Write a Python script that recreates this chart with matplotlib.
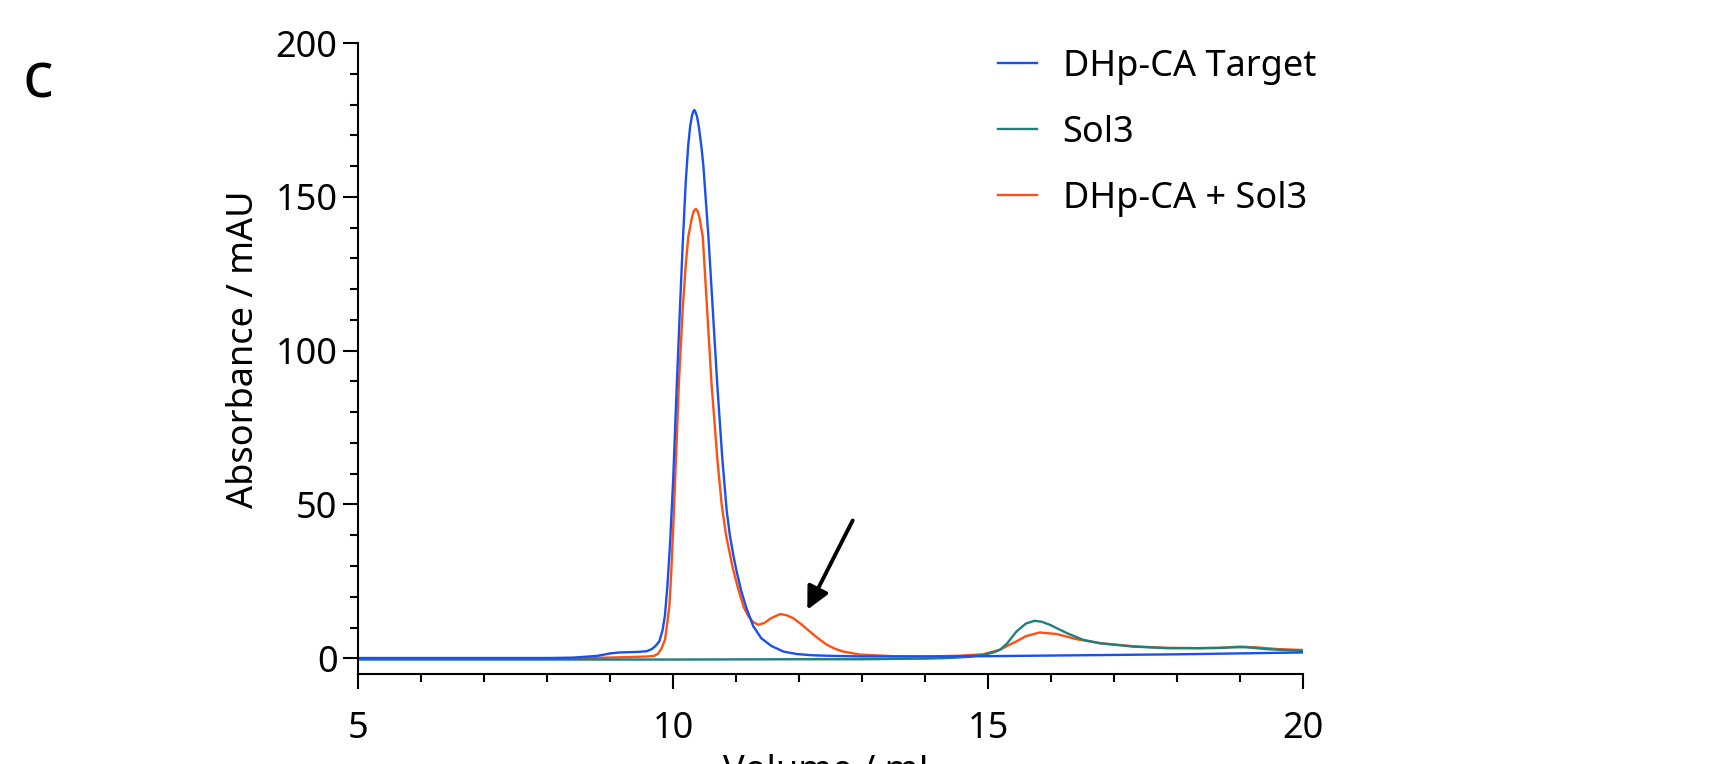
import matplotlib
matplotlib.use("Agg")
import matplotlib.pyplot as plt
from matplotlib.ticker import MultipleLocator

plt.rcParams['font.family'] = ['Noto Sans', 'Open Sans', 'DejaVu Sans']
plt.rcParams['font.weight'] = 'light'

# elution volume (mL) / absorbance (mAU) for each run
target_x = [5.0, 6.0, 7.0, 8.0, 8.4, 8.8, 9.0, 9.15, 9.3, 9.45, 9.58, 9.66, 9.72, 9.78,
            9.83, 9.87, 9.91, 9.95, 10.0, 10.05, 10.1, 10.15, 10.2, 10.24, 10.27, 10.3,
            10.32, 10.335, 10.35, 10.38, 10.41, 10.45, 10.48, 10.56, 10.63, 10.7, 10.78,
            10.85, 10.9, 10.96, 11.01, 11.08, 11.16, 11.27, 11.4, 11.56, 11.75, 11.96,
            12.2, 12.5, 13.0, 14.0, 15.0, 16.0, 17.0, 18.0, 19.0, 20.0]
target_y = [0.1, 0.1, 0.1, 0.1, 0.2, 0.8, 1.6, 1.9, 2.0, 2.1, 2.3, 3.0, 4.0, 5.5,
            9.0, 14.0, 24.0, 37.0, 58.0, 85.0, 110.0, 134.0, 155.0, 167.0, 173.0, 176.5,
            177.8, 178.2, 177.8, 176.0, 172.5, 166.0, 160.0, 137.0, 113.0, 89.0, 65.0,
            48.0, 40.0, 33.0, 28.0, 22.0, 16.5, 10.5, 6.5, 4.0, 2.2, 1.4,
            1.0, 0.8, 0.6, 0.6, 0.7, 0.9, 1.1, 1.3, 1.6, 1.9]

sol3_x = [5.0, 8.0, 10.0, 12.0, 13.0, 14.0, 14.39, 14.7, 14.92, 15.1, 15.19, 15.3, 15.45,
          15.6, 15.74, 15.85, 15.98, 16.25, 16.51, 16.78, 17.31, 17.84, 18.37, 18.7,
          18.89, 19.1, 19.42, 19.7, 20.0]
sol3_y = [-0.4, -0.4, -0.4, -0.3, -0.3, -0.1, 0.1, 0.5, 1.1, 2.0, 2.8, 4.8, 8.7,
          11.3, 12.2, 11.9, 10.9, 8.2, 6.0, 4.9, 3.8, 3.3, 3.3, 3.4,
          3.6, 3.6, 3.0, 2.7, 2.4]

mix_x = [5.0, 7.0, 8.0, 8.9, 9.3, 9.6, 9.7, 9.76, 9.81, 9.87, 9.91, 9.94, 9.97, 10.0,
         10.045, 10.09, 10.15, 10.2, 10.24, 10.3, 10.33, 10.36, 10.39, 10.42, 10.47,
         10.54, 10.61, 10.7, 10.77, 10.84, 10.95, 11.04, 11.12, 11.2, 11.27, 11.35,
         11.45, 11.55, 11.7, 11.8, 11.91, 12.05, 12.17, 12.3, 12.44, 12.57, 12.7, 12.97,
         13.5, 14.0, 14.5, 14.92, 15.19, 15.32, 15.45, 15.6, 15.82, 16.09, 16.41, 16.78,
         17.31, 17.84, 18.37, 18.7, 19.0, 19.3, 19.6, 20.0]
mix_y = [0.0, 0.0, 0.0, 0.2, 0.4, 0.6, 0.8, 1.5, 3.0, 6.0, 12.0, 17.0, 28.0, 42.0,
         65.0, 89.0, 113.0, 128.0, 137.0, 143.5, 145.5, 146.1, 145.3, 143.0, 137.0,
         113.0, 89.0, 65.0, 50.0, 40.0, 29.0, 22.0, 16.6, 13.5, 11.8, 10.9,
         11.5, 13.0, 14.4, 14.0, 13.0, 10.8, 8.7, 6.5, 4.4, 3.1, 2.2, 1.2,
         0.7, 0.6, 0.8, 1.3, 2.8, 4.2, 5.5, 7.2, 8.4, 7.9, 6.2, 4.9,
         3.9, 3.4, 3.3, 3.4, 3.8, 3.5, 3.0, 2.7]

labels = ["DHp-CA Target", "Sol3", "DHp-CA + Sol3"]

# arrow pointing at the extra shoulder
arrow_tail = (12.85, 44.8)
arrow_tip = (12.13, 15.8)

fig = plt.figure(figsize=(17.24, 7.64), dpi=100)
ax = fig.add_axes([0.2078, 0.1182, 0.548, 0.8255])

l3, = ax.plot(mix_x, mix_y, color='#ff5014', lw=1.7, label=labels[2])
l2, = ax.plot(sol3_x, sol3_y, color='#1f7f80', lw=1.7, label=labels[1])
l1, = ax.plot(target_x, target_y, color='#1a4ff0', lw=1.7, label=labels[0])

ax.annotate("", xy=arrow_tip, xytext=arrow_tail,
            arrowprops=dict(arrowstyle='-|>', color='black', lw=2.8,
                            mutation_scale=34, shrinkA=0, shrinkB=0))

ax.set_xlim(5, 20)
ax.set_ylim(-5, 200)
ax.xaxis.set_major_locator(MultipleLocator(5))
ax.xaxis.set_minor_locator(MultipleLocator(1))
ax.yaxis.set_major_locator(MultipleLocator(50))
ax.yaxis.set_minor_locator(MultipleLocator(10))

for side in ['top', 'right']:
    ax.spines[side].set_visible(False)
for side in ['left', 'bottom']:
    ax.spines[side].set_linewidth(1.5)

ax.tick_params(which='major', length=11, width=1.5, labelsize=26)
ax.tick_params(which='minor', length=5.5, width=1.5)
ax.tick_params(axis='x', which='major', pad=16)
ax.tick_params(axis='y', which='major', pad=4)

ax.set_xlabel("Volume / mL", fontsize=26, labelpad=5)
ax.set_ylabel("Absorbance / mAU", fontsize=26, labelpad=10)
ax.yaxis.label.set_y(0.514)

ax.legend(handles=[l1, l2, l3], loc='upper left', bbox_to_anchor=(0.6768, 0.9905),
          frameon=False, fontsize=26, handlelength=1.1, handletextpad=0.7,
          labelspacing=0.83, borderpad=0, borderaxespad=0)

fig.text(0.0128, 0.873, "c", fontsize=46, fontweight='normal', ha='left', va='baseline')

fig.savefig("out.png", dpi=100)
